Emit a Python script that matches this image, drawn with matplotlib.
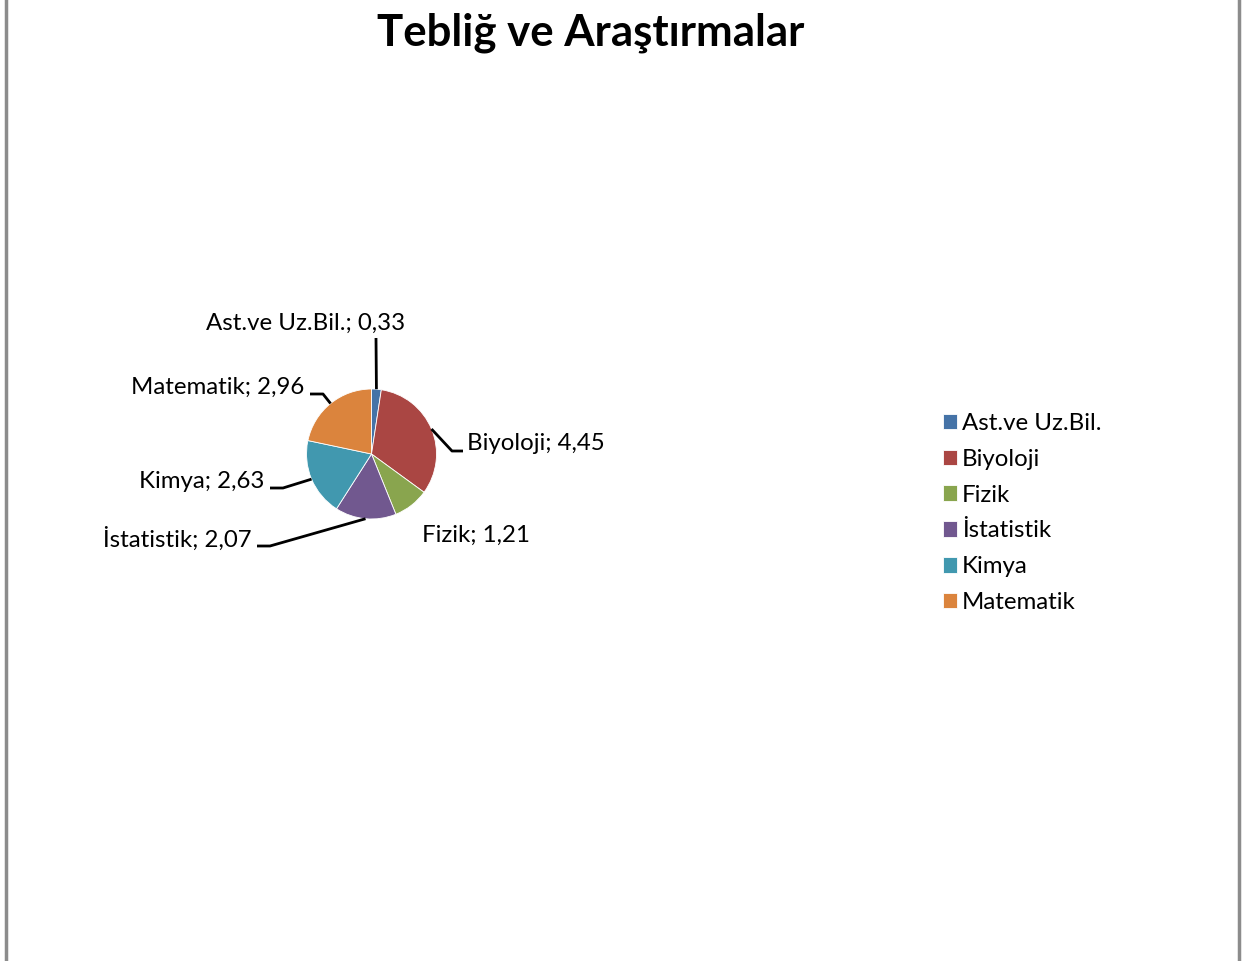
import numpy as np
import matplotlib
matplotlib.use("Agg")
import matplotlib.pyplot as plt
from matplotlib.lines import Line2D

plt.rcParams['font.family'] = ['Lato', 'DejaVu Sans']

# veri
labels = ["Ast.ve Uz.Bil.", "Biyoloji", "Fizik", "İstatistik", "Kimya", "Matematik"]
values = [0.33, 4.45, 1.21, 2.07, 2.63, 2.96]
colors = ["#4573A7", "#AA4643", "#89A54E", "#71588F", "#4198AF", "#DB843D"]

W, H = 1242, 961
fig = plt.figure(figsize=(W / 100, H / 100), dpi=100)
ax = fig.add_axes([0, 0, 1, 1])

cx, cy, r = 371.5, H - 454, 65
wedges, _ = ax.pie(values, colors=colors, startangle=90, counterclock=False,
                   center=(cx, cy), radius=r, frame=True,
                   wedgeprops=dict(linewidth=0.6, edgecolor="white"))
ax.set_xlim(0, W)
ax.set_ylim(0, H)
ax.set_aspect("equal")
ax.axis("off")

# etiket konumlari (piksel, ustten) ve kirilma noktalari
lab_pos = {
    "Ast.ve Uz.Bil.": (405, 323, "right", [(376, 338)]),
    "Biyoloji": (467, 444, "left", [(452, 451), (463, 451)]),
    "Fizik": (422, 535, "left", None),
    "İstatistik": (252, 539, "right", [(270, 546), (257, 546)]),
    "Kimya": (264, 481, "right", [(283, 488), (270, 488)]),
    "Matematik": (304, 387, "right", [(323, 394), (310, 394)]),
}

fs = 17.3
total = sum(values)
cum = 0
for lab, v in zip(labels, values):
    mid = (cum + v / 2) / total * 2 * np.pi
    cum += v
    ex = cx + r * np.sin(mid)
    ey = cy + r * np.cos(mid)
    tx, ty, ha, pts = lab_pos[lab]
    txt = f"{lab}; " + f"{v:.2f}".replace(".", ",")
    ax.text(tx, H - ty, txt, ha=ha, va="center", fontsize=fs, color="black")
    if pts:
        xs = [ex] + [p[0] for p in pts]
        ys = [ey] + [H - p[1] for p in pts]
        ax.plot(xs, ys, color="black", lw=2, solid_capstyle="butt")

fig.text(591 / W, 1 - 33 / H, "Tebliğ ve Araştırmalar", ha="center", va="center",
         fontsize=31.5, fontweight="bold")

fig.legend(wedges, labels, loc="center left", bbox_to_anchor=(921 / W, 1 - 513 / H),
           frameon=False, fontsize=fs, handlelength=0.6, handleheight=0.6,
           handletextpad=0.2, labelspacing=0.62)

for x in (6, 1239):
    fig.add_artist(Line2D([x / W, x / W], [0, 1], color="#8c8c8c", lw=2.5))

fig.savefig("out.png", dpi=100)
